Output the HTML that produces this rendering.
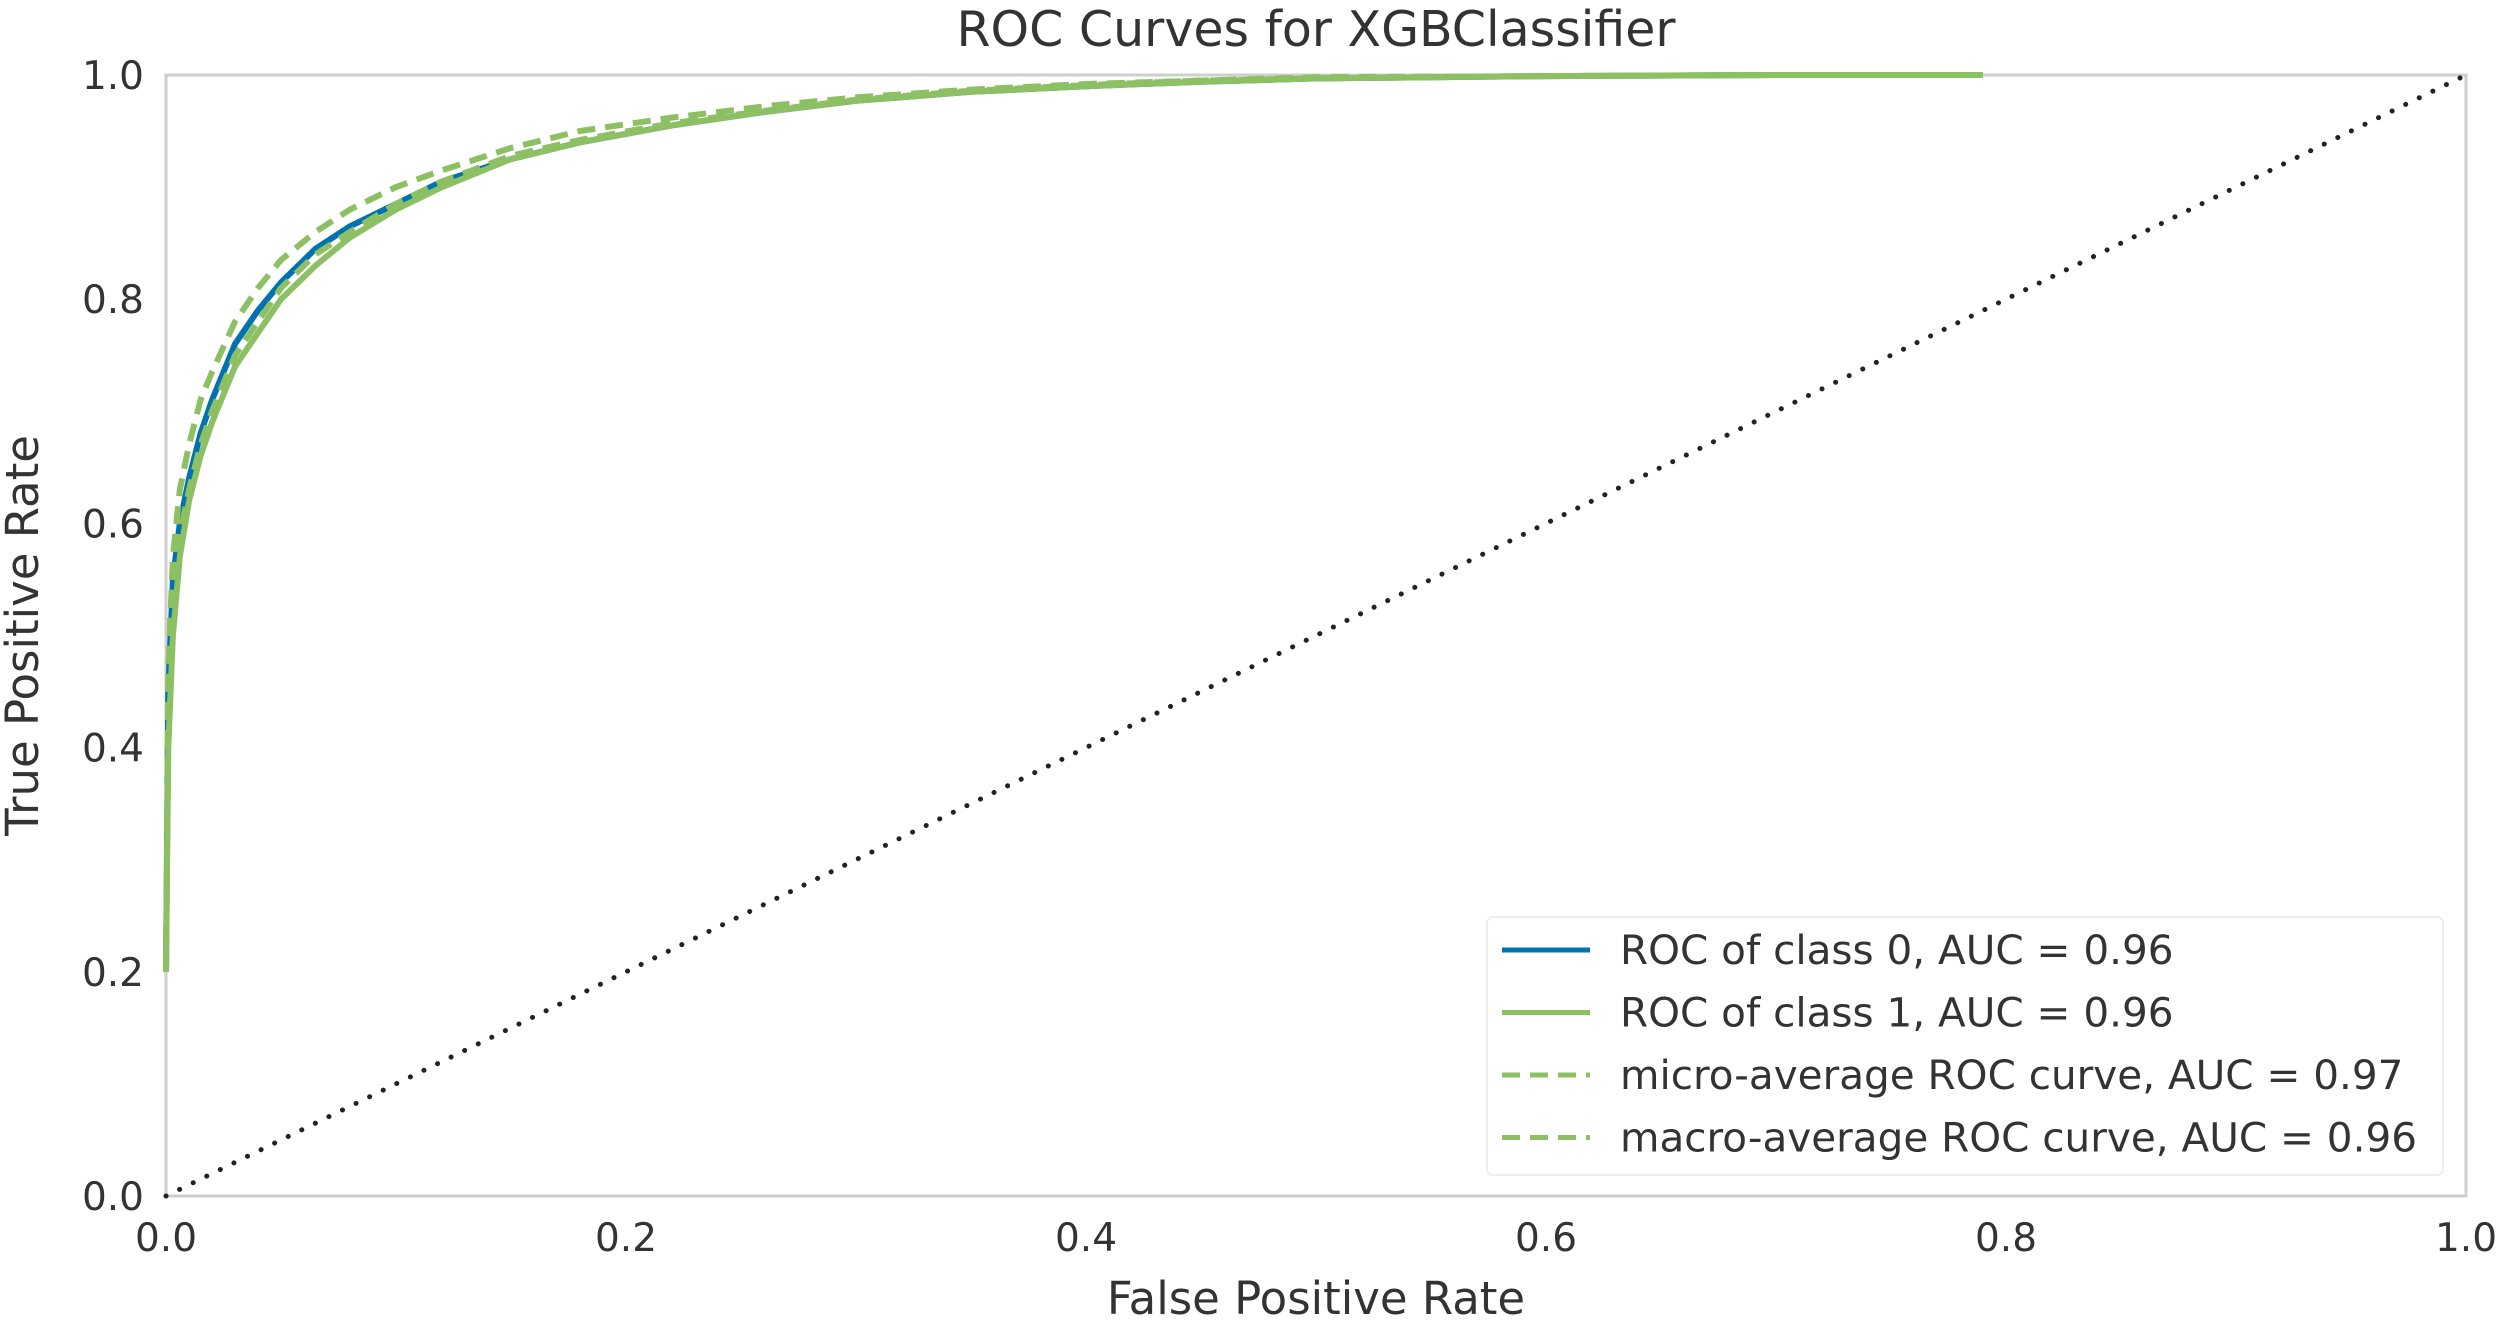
<!DOCTYPE html>
<html><head><meta charset="utf-8">
<style>
html,body{margin:0;padding:0;background:#fff;}
svg{display:block;}
text{font-family:"DejaVu Sans","Liberation Sans",sans-serif;fill:#333;}
</style></head>
<body>
<svg id="chart" width="2500" height="1323" xmlns="http://www.w3.org/2000/svg"></svg>
<script>
const xTicks = [0.0, 0.2, 0.4, 0.6, 0.8, 1.0];
const yTicks = [0.0, 0.2, 0.4, 0.6, 0.8, 1.0];
const tickLabels = ["0.0","0.2","0.4","0.6","0.8","1.0"];
const class0Fpr = [0,0.001,0.003,0.006,0.01,0.015,0.02,0.03,0.04,0.05,0.065,0.08,0.1,0.12,0.15,0.18,0.22,0.26,0.3,0.35,0.4,0.45,0.5,0.6,0.7,0.79];
const class0Tpr = [0.2,0.45,0.55,0.6,0.64,0.68,0.71,0.76,0.79,0.815,0.845,0.865,0.885,0.905,0.925,0.94,0.955,0.967,0.977,0.985,0.99,0.994,0.997,0.999,1.0,1.0];
const class1Fpr = [0,0.001,0.003,0.006,0.01,0.015,0.02,0.03,0.04,0.05,0.065,0.08,0.1,0.12,0.15,0.18,0.22,0.26,0.3,0.35,0.4,0.45,0.5,0.6,0.7,0.79];
const class1Tpr = [0.2,0.4,0.5,0.57,0.62,0.66,0.69,0.74,0.77,0.8,0.83,0.855,0.88,0.9,0.925,0.94,0.955,0.967,0.977,0.985,0.99,0.994,0.997,0.999,1.0,1.0];
const microFpr = [0,0.001,0.003,0.006,0.01,0.015,0.02,0.03,0.04,0.05,0.065,0.08,0.1,0.12,0.15,0.18,0.22,0.26,0.3,0.35,0.4,0.45,0.5,0.6,0.7,0.79];
const microTpr = [0.2,0.47,0.57,0.63,0.67,0.71,0.735,0.78,0.81,0.835,0.86,0.88,0.9,0.915,0.935,0.95,0.962,0.972,0.98,0.987,0.992,0.995,0.998,0.999,1.0,1.0];
const macroFpr = [0,0.001,0.003,0.006,0.01,0.015,0.02,0.03,0.04,0.05,0.065,0.08,0.1,0.12,0.15,0.18,0.22,0.26,0.3,0.35,0.4,0.45,0.5,0.6,0.7,0.79];
const macroTpr = [0.2,0.43,0.53,0.59,0.63,0.67,0.7,0.75,0.78,0.81,0.84,0.86,0.885,0.905,0.928,0.942,0.957,0.968,0.978,0.986,0.991,0.995,0.997,0.999,1.0,1.0];
const legendLabels = ["ROC of class 0, AUC = 0.96","ROC of class 1, AUC = 0.96","micro-average ROC curve, AUC = 0.97","macro-average ROC curve, AUC = 0.96"];

const NS="http://www.w3.org/2000/svg";
const svg=document.getElementById('chart');
const L=166,R=2466,T=75,B=1196;
const sx=v=>L+v*(R-L);
const sy=v=>B-v*(B-T);
function mk(tag,attrs,parent){const e=document.createElementNS(NS,tag);for(const k in attrs)e.setAttribute(k,attrs[k]);(parent||svg).appendChild(e);return e;}

const frame=mk('rect',{x:L,y:T,width:R-L,height:B-T,fill:'#fff',stroke:'#cfcfcf','stroke-width':3});



const title=mk('text',{x:(L+R)/2,y:46,'text-anchor':'middle','font-size':49});
title.textContent="ROC Curves for XGBClassifier";



xTicks.forEach((v,i)=>{
  const t=mk('text',{x:sx(v),y:B+55,'text-anchor':'middle','font-size':39});
  t.textContent=tickLabels[i];
  
  
});
yTicks.forEach((v,i)=>{
  const t=mk('text',{x:L-22,y:sy(v)+14,'text-anchor':'end','font-size':39});
  t.textContent=tickLabels[i];
  
  
});
const xl=mk('text',{x:(L+R)/2,y:1314,'text-anchor':'middle','font-size':45});
xl.textContent="False Positive Rate";


const yl=mk('text',{x:38,y:(T+B)/2,'text-anchor':'middle','font-size':45,transform:`rotate(-90 38 ${(T+B)/2})`});
yl.textContent="True Positive Rate";



function curve(xs,ys,color,dash,name){
  const d=xs.map((x,i)=>(i?'L':'M')+sx(x).toFixed(1)+','+sy(ys[i]).toFixed(1)).join(' ');
  const p=mk('path',{d:d,fill:'none',stroke:color,'stroke-width':6,'stroke-linejoin':'round'});
  if(dash)p.setAttribute('stroke-dasharray',dash);
  
  
}
const BLUE='#0072B2',GREEN='#8cc063';
curve(class0Fpr,class0Tpr,BLUE,null,'class-0-roc-line');
curve(class1Fpr,class1Tpr,GREEN,null,'class-1-roc-line');
curve(macroFpr,macroTpr,GREEN,'18,10','macro-average-roc-line');
curve(microFpr,microTpr,GREEN,'18,10','micro-average-roc-line');

const diag=mk('line',{x1:sx(0),y1:sy(0),x2:sx(1),y2:sy(1),stroke:'#222','stroke-width':5,'stroke-dasharray':'0.1,15','stroke-linecap':'round'});



const lg=mk('rect',{x:1487,y:917,width:956,height:258,rx:6,fill:'#fff','fill-opacity':0.85,stroke:'#eeeeee','stroke-width':2});


const lcol=[BLUE,GREEN,GREEN,GREEN];
const ldash=[null,null,'18,10','18,10'];
legendLabels.forEach((s,i)=>{
  const y=950+i*62.5;
  const ln=mk('line',{x1:1502,y1:y,x2:1590,y2:y,stroke:lcol[i],'stroke-width':5});
  if(ldash[i])ln.setAttribute('stroke-dasharray',ldash[i]);
  
  
  const t=mk('text',{x:1620,y:y+14,'font-size':40.5});
  t.textContent=s;
  
  
});
</script>
</body></html>
